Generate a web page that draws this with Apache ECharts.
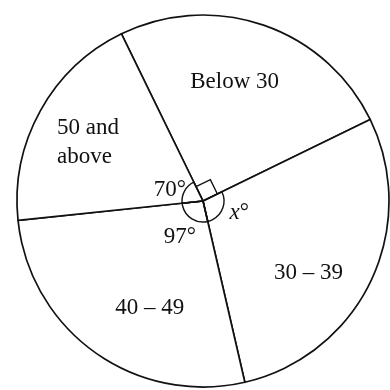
<!DOCTYPE html>
<html>
<head>
<meta charset="utf-8">
<script src="https://cdn.jsdelivr.net/npm/echarts@6/dist/echarts.min.js"></script>
<style>
html,body{margin:0;padding:0;background:#fff;}
#c{width:390px;height:390px;}
</style>
</head>
<body>
<div id="c"></div>
<script>
// Data (degrees of each sector, clockwise from the "Below 30" sector)
const categories = ['Below 30', '30 – 39', '40 – 49', '50 and\nabove'];
const angles = [90, 103, 97, 70];
const angleLabels = ['', '{i|x}°', '97°', '70°'];

const CENTER = [203, 201];
const R = 186;
const START = 116;
const INK = '#111';
const FONT = '"Liberation Serif", "DejaVu Serif", serif';

const labelOffsets = [[-10, 2], [-10, 17], [21, 3], [-3, 4]];
const angleOffsets = [[0, 0], [2, -4], [-1, 5], [0, 7]];

const chart = echarts.init(document.getElementById('c'), null, {renderer: 'canvas'});

const mainData = categories.map((c, i) => ({name: c, value: angles[i]}));

const labelData = categories.map((c, i) => ({
  name: c, value: angles[i],
  label: {offset: labelOffsets[i]}
}));

const arcData = categories.map((c, i) => ({
  name: c, value: angles[i],
  itemStyle: i === 0 ? {borderWidth: 0, borderColor: 'transparent'} : {}
}));

const angleData = categories.map((c, i) => ({
  name: c, value: angles[i],
  label: {offset: angleOffsets[i]}
}));

// right-angle marker, computed from the first sector's edges
function bearingPoint(bearingDeg, r) {
  const t = bearingDeg * Math.PI / 180;
  return [CENTER[0] + r * Math.sin(t), CENTER[1] - r * Math.cos(t)];
}
const b1 = 90 - START;            // compass bearing of first edge
const b2 = b1 + angles[0];        // compass bearing of second edge
const s = 16;
const p1 = bearingPoint(b1, s);
const p3 = bearingPoint(b2, s);
const p2 = [p1[0] + p3[0] - CENTER[0], p1[1] + p3[1] - CENTER[1]];

chart.setOption({
  backgroundColor: '#fff',
  animation: false,
  series: [
    {
      type: 'pie',
      center: CENTER,
      radius: [0, R],
      startAngle: START,
      clockwise: true,
      silent: true,
      label: {show: false},
      labelLine: {show: false},
      itemStyle: {color: '#fff', borderColor: INK, borderWidth: 1.7},
      emphasis: {disabled: true},
      data: mainData
    },
    {
      type: 'pie',
      center: CENTER,
      radius: [100, 150],
      startAngle: START,
      clockwise: true,
      silent: true,
      avoidLabelOverlap: false,
      itemStyle: {color: 'transparent', borderWidth: 0},
      label: {
        show: true,
        position: 'inside',
        formatter: p => p.name.split('\n').map(t => '{a|' + t + '}').join('\n'),
        color: INK,
        fontFamily: FONT,
        fontSize: 23,
        lineHeight: 29,
        rich: {a: {fontFamily: FONT, fontSize: 23, lineHeight: 29, color: INK, align: 'left'}}
      },
      labelLine: {show: false},
      emphasis: {disabled: true},
      data: labelData
    },
    {
      type: 'pie',
      center: CENTER,
      radius: [0, 21],
      startAngle: START,
      clockwise: true,
      silent: true,
      avoidLabelOverlap: false,
      itemStyle: {color: 'transparent', borderColor: INK, borderWidth: 1.4},
      label: {show: false},
      labelLine: {show: false},
      emphasis: {disabled: true},
      data: arcData
    },
    {
      type: 'pie',
      center: CENTER,
      radius: [20, 50],
      startAngle: START,
      clockwise: true,
      silent: true,
      avoidLabelOverlap: false,
      itemStyle: {color: 'transparent', borderWidth: 0},
      label: {
        show: true,
        position: 'inside',
        formatter: p => angleLabels[p.dataIndex],
        color: INK,
        fontFamily: FONT,
        fontSize: 23,
        rich: {i: {fontStyle: 'italic', fontFamily: FONT, fontSize: 23, color: INK}}
      },
      labelLine: {show: false},
      emphasis: {disabled: true},
      data: angleData
    }
  ],
  graphic: [{
    type: 'polyline',
    silent: true,
    z: 100,
    shape: {points: [p1, p2, p3]},
    style: {stroke: INK, lineWidth: 1.4, fill: 'none'}
  }]
});
</script>
</body>
</html>
